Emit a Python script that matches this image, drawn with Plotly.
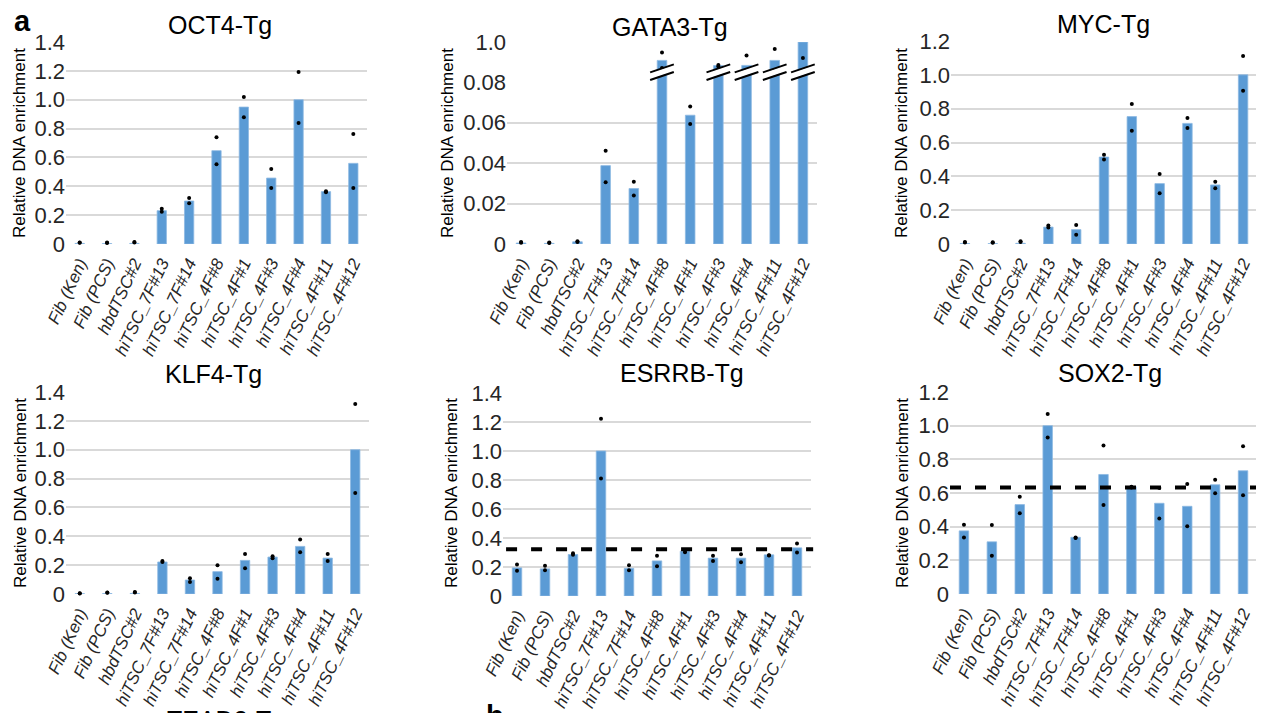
import plotly.graph_objects as go

# ---------------- data ----------------
categories = ["Fib (Ken)", "Fib (PCS)", "hbdTSC#2", "hiTSC_7F#13", "hiTSC_7F#14",
              "hiTSC_4F#8", "hiTSC_4F#1", "hiTSC_4F#3", "hiTSC_4F#4", "hiTSC_4F#11", "hiTSC_4F#12"]

oct4_mean = [0.004, 0.003, 0.004, 0.231, 0.298, 0.647, 0.949, 0.457, 1.000, 0.363, 0.559]
oct4_rep1 = [0.011, 0.010, 0.014, 0.245, 0.319, 0.739, 1.019, 0.520, 1.192, 0.365, 0.762]
oct4_rep2 = [0.008, 0.007, 0.010, 0.224, 0.282, 0.552, 0.878, 0.388, 0.838, 0.358, 0.388]

gata3_mean = [0.0005, 0.0003, 0.0011, 0.0387, 0.0274, 0.908, 0.0636, 0.882, 0.883, 0.908, 1.000]
gata3_rep1 = [0.0010, 0.0008, 0.0013, 0.0460, 0.0307, 0.947, 0.0679, 0.885, 0.932, 0.965, 1.087]
gata3_rep2 = [0.0006, 0.0005, 0.0010, 0.0305, 0.0239, 0.870, 0.0593, 0.878, 0.858, 0.858, 0.920]

myc_mean = [0.003, 0.002, 0.004, 0.100, 0.085, 0.514, 0.753, 0.357, 0.713, 0.349, 1.000]
myc_rep1 = [0.012, 0.010, 0.016, 0.110, 0.112, 0.528, 0.828, 0.414, 0.745, 0.368, 1.111]
myc_rep2 = [0.009, 0.008, 0.012, 0.097, 0.055, 0.499, 0.670, 0.300, 0.686, 0.329, 0.906]

klf4_mean = [0.002, 0.003, 0.004, 0.222, 0.097, 0.155, 0.233, 0.256, 0.330, 0.249, 1.000]
klf4_rep1 = [0.005, 0.010, 0.014, 0.229, 0.109, 0.199, 0.277, 0.261, 0.377, 0.277, 1.317]
klf4_rep2 = [0.004, 0.008, 0.010, 0.222, 0.083, 0.106, 0.178, 0.247, 0.289, 0.229, 0.700]

esrrb_mean = [0.194, 0.187, 0.286, 1.000, 0.191, 0.242, 0.309, 0.261, 0.261, 0.284, 0.332]
esrrb_rep1 = [0.217, 0.208, 0.295, 1.222, 0.212, 0.277, 0.314, 0.277, 0.288, 0.281, 0.362]
esrrb_rep2 = [0.175, 0.178, 0.284, 0.810, 0.178, 0.205, 0.302, 0.242, 0.233, 0.279, 0.300]
esrrb_threshold = 0.323

sox2_mean = [0.375, 0.310, 0.531, 1.000, 0.337, 0.710, 0.637, 0.539, 0.521, 0.649, 0.732]
sox2_rep1 = [0.412, 0.410, 0.578, 1.070, 0.335, 0.882, 0.637, 0.630, 0.653, 0.679, 0.878]
sox2_rep2 = [0.335, 0.227, 0.480, 0.930, 0.332, 0.529, 0.632, 0.448, 0.403, 0.598, 0.586]
sox2_threshold = 0.632

ticks_14 = [0, 0.2, 0.4, 0.6, 0.8, 1.0, 1.2, 1.4]
ticklabels_14 = ["0", "0.2", "0.4", "0.6", "0.8", "1.0", "1.2", "1.4"]
ticks_12 = [0, 0.2, 0.4, 0.6, 0.8, 1.0, 1.2]
ticklabels_12 = ["0", "0.2", "0.4", "0.6", "0.8", "1.0", "1.2"]
gata3_low_ticks = [0, 0.02, 0.04, 0.06, 0.08]
gata3_low_labels = ["0", "0.02", "0.04", "0.06", "0.08"]
gata3_high_ticks = [1.0]
gata3_high_labels = ["1.0"]
gata3_break = (0.08, 0.8)   # lower axis top, upper axis bottom

titles = ["OCT4-Tg", "GATA3-Tg", "MYC-Tg", "KLF4-Tg", "ESRRB-Tg", "SOX2-Tg"]
ytitle = "Relative DNA enrichment"

# ---------------- layout (pixels) ----------------
W, H = 1264, 713
OFF = 8   # page body margin compensation
BLUE = "#5B9BD5"
GRID = "#D9D9D9"
FONT = "Liberation Sans, Arial, sans-serif"
TXT = "#262626"


def px_x(x):
    return (x - OFF) / W


def px_y(y):
    return 1 - (y - OFF) / H


# plot boxes: (left, right, top, bottom)
boxes = [(66, 367, 42, 244), (507, 817, 42, 244), (951, 1257, 41, 244),
         (66, 369, 392, 594), (503, 811, 393, 596), (950, 1257, 392, 594)]
title_pos = [(220, 25), (670, 27), (1103, 24), (213, 374), (682, 373), (1110, 373)]
ytitle_pos = [(20, 143), (448, 143), (902, 143), (20, 493), (451, 493), (902, 493)]
gata3_split_px = 82

panels = [
    dict(mean=oct4_mean, r1=oct4_rep1, r2=oct4_rep2, rng=1.4, tv=ticks_14, tt=ticklabels_14),
    dict(mean=gata3_mean, r1=gata3_rep1, r2=gata3_rep2, rng=gata3_break[0], tv=gata3_low_ticks, tt=gata3_low_labels),
    dict(mean=myc_mean, r1=myc_rep1, r2=myc_rep2, rng=1.2, tv=ticks_12, tt=ticklabels_12),
    dict(mean=klf4_mean, r1=klf4_rep1, r2=klf4_rep2, rng=1.4, tv=ticks_14, tt=ticklabels_14),
    dict(mean=esrrb_mean, r1=esrrb_rep1, r2=esrrb_rep2, rng=1.4, tv=ticks_14, tt=ticklabels_14, thr=esrrb_threshold, thr_x=(0.01, 1.007)),
    dict(mean=sox2_mean, r1=sox2_rep1, r2=sox2_rep2, rng=1.2, tv=ticks_12, tt=ticklabels_12, thr=sox2_threshold, thr_x=(0.0, 1.007)),
]

fig = go.Figure()
layout = dict(width=W, height=H, margin=dict(l=0, r=0, t=0, b=0, pad=0, autoexpand=False),
              paper_bgcolor="white", plot_bgcolor="white", showlegend=False,
              font=dict(family=FONT, color=TXT), bargap=0.66,
              annotations=[], shapes=[])


def yaxis_common(tv, tt, rng, dom, anchor):
    return dict(range=[0, rng] if rng else None, tickvals=tv, ticktext=tt, showgrid=True,
                gridcolor=GRID, gridwidth=2, zeroline=False, showline=False, ticks="",
                tickfont=dict(size=22, family=FONT, color=TXT), domain=dom, anchor=anchor,
                fixedrange=True, automargin=False, ticklabelstandoff=0)


def add_points(r1, r2, cats):
    xs, ys = [], []
    for c, a, b in zip(cats, r1, r2):
        xs += [c, c]
        ys += [a, b]
    return xs, ys


for k, p in enumerate(panels, start=1):
    l, r, t, b = boxes[k - 1]
    xa, ya = f"x{k}", f"y{k}"
    top_px = gata3_split_px if k == 2 else t
    layout[f"xaxis{k}"] = dict(type="category", categoryorder="array", categoryarray=categories,
                               range=[-0.5, len(categories) - 0.5], domain=[px_x(l), px_x(r)],
                               anchor=ya, showgrid=False, zeroline=False, showline=False, ticks="",
                               tickangle=-65, automargin=False, ticklabelstandoff=5,
                               tickfont=dict(size=17, family=FONT, color=TXT, style="italic"),
                               fixedrange=True)
    layout[f"yaxis{k}"] = yaxis_common(p["tv"], p["tt"], p["rng"], [px_y(b), px_y(top_px)], xa)

    fig.add_trace(go.Bar(x=categories, y=p["mean"], xaxis=xa, yaxis=ya,
                         marker=dict(color=BLUE, line=dict(color="#8DB9E2", width=0.8))))
    xs, ys = add_points(p["r1"], p["r2"], categories)
    if k == 2:
        lx = [x for x, y in zip(xs, ys) if y <= gata3_break[0]]
        ly = [y for y in ys if y <= gata3_break[0]]
        hx = [x for x, y in zip(xs, ys) if y > gata3_break[0]]
        hy = [y for y in ys if y > gata3_break[0]]
        fig.add_trace(go.Scatter(x=lx, y=ly, xaxis=xa, yaxis=ya, mode="markers", cliponaxis=False,
                                 marker=dict(color="black", size=4)))
        # upper segment of broken axis
        layout["yaxis7"] = yaxis_common(gata3_high_ticks, gata3_high_labels, None,
                                        [px_y(gata3_split_px), px_y(t)], xa)
        layout["yaxis7"]["range"] = [gata3_break[1], 1.0]
        fig.add_trace(go.Bar(x=categories, y=p["mean"], xaxis=xa, yaxis="y7",
                             marker=dict(color=BLUE, line=dict(color="#8DB9E2", width=0.8))))
        fig.add_trace(go.Scatter(x=hx, y=hy, xaxis=xa, yaxis="y7", mode="markers", cliponaxis=False,
                                 marker=dict(color="black", size=4)))
        # break marks on bars that cross the break
        for i, v in enumerate(p["mean"]):
            if v > gata3_break[0]:
                y0 = gata3_break[1] + 0.010
                for dy, col, wdt in [(0.019, "white", 6), (0.0, "black", 2), (0.019 * 2, "black", 2)]:
                    layout["shapes"].append(dict(type="line", xref=xa, yref="y7",
                                                 x0=i - 0.42, x1=i + 0.42, y0=y0 + dy, y1=y0 + dy + 0.04,
                                                 line=dict(color=col, width=wdt), layer="above"))
    else:
        fig.add_trace(go.Scatter(x=xs, y=ys, xaxis=xa, yaxis=ya, mode="markers", cliponaxis=False,
                                 marker=dict(color="black", size=4)))
    if "thr" in p:
        layout["shapes"].append(dict(type="line", xref=f"{xa} domain", yref=ya,
                                     x0=p["thr_x"][0], x1=p["thr_x"][1], y0=p["thr"], y1=p["thr"],
                                     line=dict(color="black", width=4, dash="11px,14px"), layer="above"))

    tx, ty = title_pos[k - 1]
    layout["annotations"].append(dict(text=titles[k - 1], x=px_x(tx), y=px_y(ty), xref="paper", yref="paper",
                                      xanchor="center", yanchor="middle", showarrow=False,
                                      font=dict(size=25, family=FONT, color="black")))
    yx, yy = ytitle_pos[k - 1]
    layout["annotations"].append(dict(text=ytitle, x=px_x(yx), y=px_y(yy), xref="paper", yref="paper",
                                      xanchor="center", yanchor="middle", showarrow=False, textangle=-90,
                                      font=dict(size=17, family=FONT, color="black")))

# panel letters and cut-off next-row title
layout["annotations"].append(dict(text="<b>a</b>", x=px_x(22), y=px_y(21), xref="paper", yref="paper",
                                  xanchor="center", yanchor="middle", showarrow=False,
                                  font=dict(size=29, family=FONT, color="black")))
layout["annotations"].append(dict(text="TEAD2-Tg", x=px_x(226), y=px_y(704), xref="paper", yref="paper",
                                  xanchor="center", yanchor="top", showarrow=False,
                                  font=dict(size=25, family=FONT, color="black")))
layout["annotations"].append(dict(text="<b>b</b>", x=px_x(495), y=px_y(698), xref="paper", yref="paper",
                                  xanchor="center", yanchor="top", showarrow=False,
                                  font=dict(size=29, family=FONT, color="black")))

fig.update_layout(**layout)
fig.write_html("out.html")
